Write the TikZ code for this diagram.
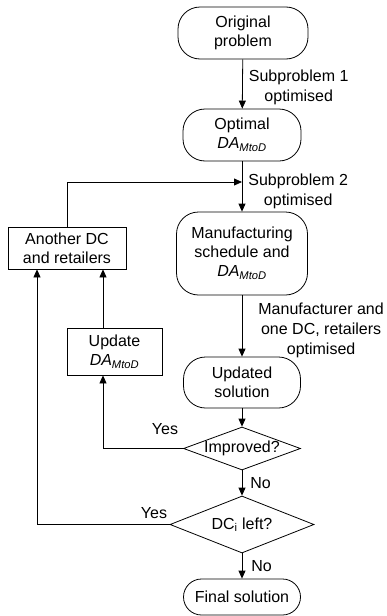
\documentclass[tikz,border=0pt]{standalone}
\usepackage{fontspec}
\setmainfont{Liberation Sans}
\usetikzlibrary{shapes.geometric, arrows.meta, positioning}
\newcommand{\damtod}{\textit{DA}\textsubscript{\textit{MtoD}}}
\tikzset{
  term/.style={
    rectangle, draw, rounded corners=22pt, align=center, inner sep=0pt,
    % node options
    font=\fontsize{16}{19}\selectfont
  },
  proc/.style={rectangle, draw, align=center, inner sep=0pt, font=\fontsize{16}{19}\selectfont},
  decide/.style={diamond, draw, align=center, inner sep=0pt, aspect=2.7, font=\fontsize{16}{19}\selectfont},
  lbl/.style={align=center, inner sep=0pt, font=\fontsize{16}{20}\selectfont},
  arr/.style={-{Triangle[length=8pt, width=7pt]}},
}

\begin{document}
\begin{tikzpicture}[x=1pt, y=-1pt, line width=0.8pt]
  \useasboundingbox (0,0) rectangle (386,616);
  \node[term, minimum width=130pt, minimum height=52pt] (orig) at (243,33) {Original\\problem};
  \node[term, minimum width=118pt, minimum height=52pt] (optim) at (242,135) {Optimal\\\damtod};
  \node[term, minimum width=131pt, minimum height=83pt] (manu) at (242,253.5) {Manufacturing\\schedule and\\\damtod};
  \node[term, minimum width=117pt, minimum height=51pt] (upsol) at (242,382.5) {Updated\\solution};
  \node[decide, minimum width=117pt, minimum height=43pt] (impr) at (242,448.5) {Improved?};
  \node[decide, minimum width=144pt, minimum height=57pt] (dcleft) at (242,524.5) {DC\textsubscript{i} left?};
  \node[term, rounded corners=18pt, minimum width=117pt, minimum height=36pt] (final) at (242,597) {Final solution};
  \node[proc, minimum width=118pt, minimum height=42pt] (another) at (67,248) {Another DC\\and retailers};
  \node[proc, minimum width=95pt, minimum height=47pt] (update) at (114.5,351.5) {Update\\\damtod};
  \coordinate (join) at (242,182);
  % main column
  \draw[arr] (orig) -- (optim) node[lbl, midway, right=6pt, yshift=-3pt] (sub1) {Subproblem 1\\optimised};
  \draw[arr] (optim) -- (manu) node[lbl, midway, right=6pt, yshift=-5pt] (sub2) {Subproblem 2\\optimised};
  \draw[arr] (manu) -- (upsol) node[lbl, midway, right=16pt, yshift=-4pt] (mdc) {Manufacturer and\\one DC, retailers\\optimised};
  \draw[arr] (upsol) -- (impr);
  \draw[arr] (impr) -- (dcleft) node[lbl, midway, right=8pt] (no1) {No};
  \draw[arr] (dcleft) -- (final) node[lbl, midway, right=9pt] (no2) {No};
  % loops back
  \draw[arr] (impr.west) -| ([xshift=-11.5pt]update.south);
  \node[lbl] (yes1) at (165,429) {Yes};
  \draw[arr] ([xshift=-11.5pt]update.north) -- ([xshift=-11.5pt]update.north |- another.south);
  \draw[arr] (dcleft.west) -| ([xshift=-30pt]another.south);
  \node[lbl] (yes2) at (154,513) {Yes};
  \draw[arr] (another.north) |- (join);
\end{tikzpicture}
\end{document}
